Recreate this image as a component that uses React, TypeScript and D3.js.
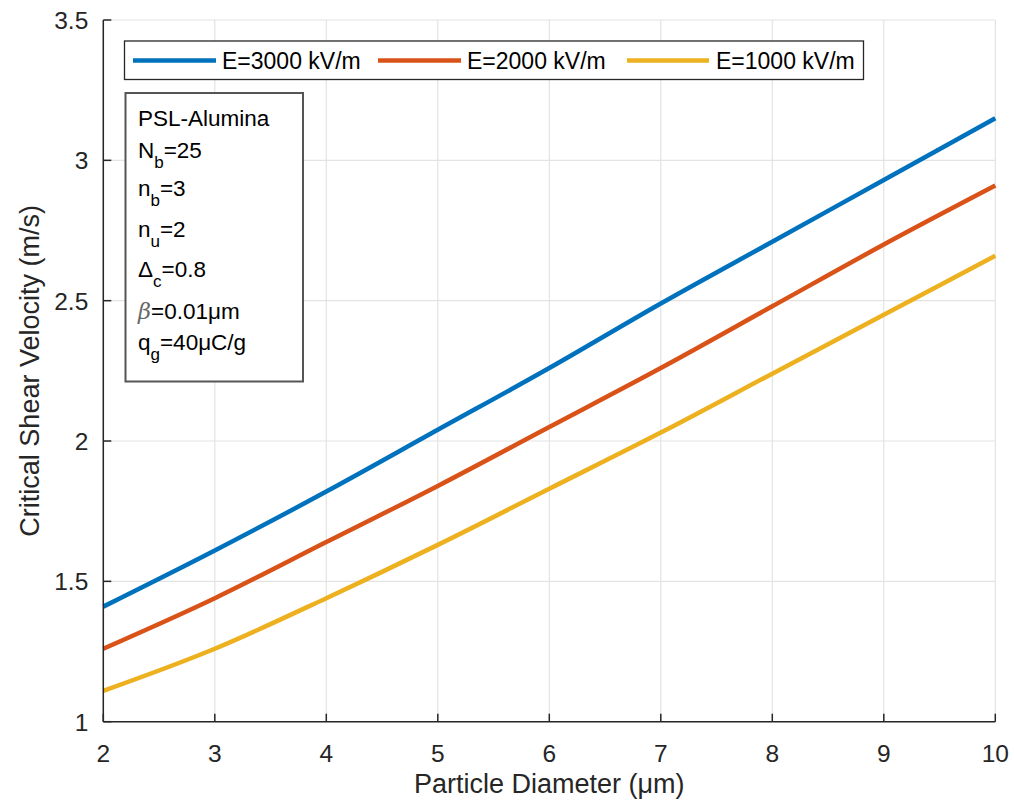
import React from "react";
import * as d3 from "d3";

const diameters = [2, 3, 4, 5, 6, 7, 8, 9, 10];
const seriesNames = ["E=3000 kV/m", "E=2000 kV/m", "E=1000 kV/m"];
const e3000 = [1.41, 1.61, 1.82, 2.04, 2.26, 2.49, 2.71, 2.93, 3.15];
const e2000 = [1.26, 1.44, 1.64, 1.84, 2.05, 2.26, 2.48, 2.70, 2.91];
const e1000 = [1.11, 1.26, 1.44, 1.63, 1.83, 2.03, 2.24, 2.45, 2.66];
const seriesColors = ["#0072BD", "#D95319", "#EDB120"];
const xTicks = [2, 3, 4, 5, 6, 7, 8, 9, 10];
const yTicks = [1, 1.5, 2, 2.5, 3, 3.5];

const W = 1014, H = 804;
const L = 103.3, R = 995.3, T = 20, B = 721.7;
const FONT = "'Liberation Sans', Arial, Helvetica, sans-serif";
const AX = "#262626";

export default function App() {
  const x = d3.scaleLinear().domain([2, 10]).range([L, R]);
  const y = d3.scaleLinear().domain([1, 3.5]).range([B, T]);
  const line = d3.line<number>().x((_, i) => x(diameters[i])).y(d => y(d)).curve(d3.curveMonotoneX);
  const all = [e3000, e2000, e1000];

  const legendItems = [
    { x1: 133, x2: 216, tx: 222 },
    { x1: 378, x2: 461, tx: 467 },
    { x1: 627, x2: 709, tx: 716 },
  ];
  const sub = 17;
  const sd = 10;
  const infoX = 138;

  return (
    <svg width={W} height={H} style={{ position: "absolute", left: 0, top: 0, background: "#fff" }} fontFamily={FONT}>
      <rect width={W} height={H} fill="#fff" />
      {xTicks.map(t => (
        <line key={"gx" + t} x1={x(t)} x2={x(t)} y1={T} y2={B} stroke="#e3e3e3" strokeWidth={1.2} />
      ))}
      {yTicks.map(t => (
        <line key={"gy" + t} x1={L} x2={R} y1={y(t)} y2={y(t)} stroke="#e3e3e3" strokeWidth={1.2} />
      ))}
      {all.map((s, i) => (
        <path key={i} d={line(s) || ""} fill="none" stroke={seriesColors[i]} strokeWidth={4.5} strokeLinejoin="round" />
      ))}
      <line x1={L} x2={R} y1={B} y2={B} stroke={AX} strokeWidth={1.5} />
      <line x1={L} x2={L} y1={T} y2={B} stroke={AX} strokeWidth={1.5} />
      {xTicks.map(t => (
        <g key={"tx" + t}>
          <line x1={x(t)} x2={x(t)} y1={B} y2={B - 8} stroke={AX} strokeWidth={1.5} />
          <text x={x(t)} y={B + 40} textAnchor="middle" fontSize={24.5} fill={AX}>{t}</text>
        </g>
      ))}
      {yTicks.map(t => (
        <g key={"ty" + t}>
          <line x1={L} x2={L + 8} y1={y(t)} y2={y(t)} stroke={AX} strokeWidth={1.5} />
          <text x={L - 15} y={y(t) + 9} textAnchor="end" fontSize={24.5} fill={AX}>{t}</text>
        </g>
      ))}
      <text x={(L + R) / 2} y={793} textAnchor="middle" fontSize={27} fill={AX}>Particle Diameter (μm)</text>
      <text transform={`translate(39, ${(T + B) / 2}) rotate(-90)`} textAnchor="middle" fontSize={27} fill={AX}>Critical Shear Velocity (m/s)</text>

      <rect x={124.5} y={41} width={739} height={38.5} fill="#fff" stroke={AX} strokeWidth={1.3} />
      {seriesNames.map((n, i) => (
        <g key={n}>
          <line x1={legendItems[i].x1} x2={legendItems[i].x2} y1={60.5} y2={60.5} stroke={seriesColors[i]} strokeWidth={4.5} />
          <text x={legendItems[i].tx} y={68.5} fontSize={23} fill="#000">{n}</text>
        </g>
      ))}

      <rect x={125.5} y={93} width={177.5} height={288.5} fill="#fff" stroke="#555" strokeWidth={2} />
      <g fontSize={22.5} fill="#000">
        <text x={infoX} y={126}>PSL-Alumina</text>
        <text x={infoX} y={158}>N<tspan fontSize={sub} dy={sd}>b</tspan><tspan dy={-sd}>=25</tspan></text>
        <text x={infoX} y={196}>n<tspan fontSize={sub} dy={sd}>b</tspan><tspan dy={-sd}>=3</tspan></text>
        <text x={infoX} y={237}>n<tspan fontSize={sub} dy={sd}>u</tspan><tspan dy={-sd}>=2</tspan></text>
        <text x={infoX} y={277}>Δ<tspan fontSize={sub} dy={sd}>c</tspan><tspan dy={-sd}>=0.8</tspan></text>
        <text x={infoX} y={319}><tspan fontStyle="italic" fill="#666" fontFamily="'DejaVu Serif', serif">β</tspan>=0.01μm</text>
        <text x={infoX} y={350}>q<tspan fontSize={sub} dy={sd}>g</tspan><tspan dy={-sd}>=40μC/g</tspan></text>
      </g>
    </svg>
  );
}
